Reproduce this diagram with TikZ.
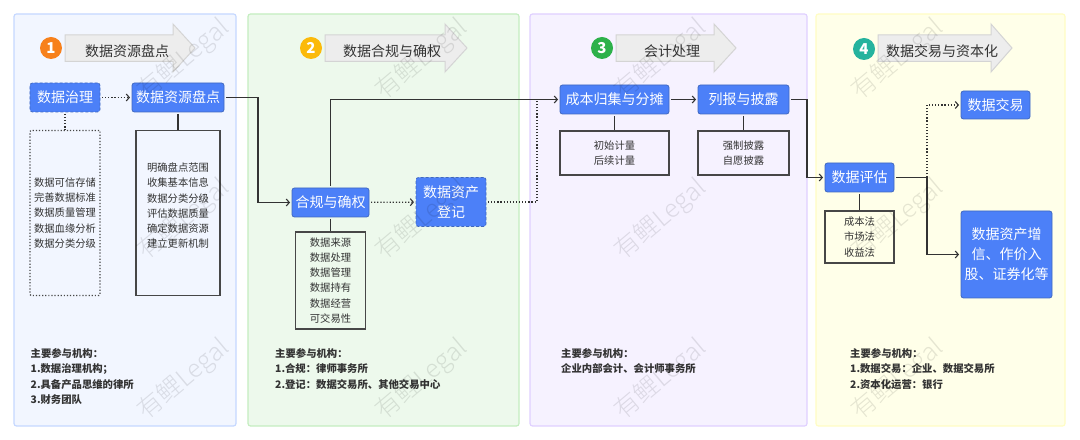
\documentclass[tikz,border=0pt]{standalone}
\usepackage{fontspec}
\setmainfont{Noto Sans CJK SC}
\newfontfamily\wmfont[UprightFont=* Light]{Noto Sans CJK SC}
\usetikzlibrary{arrows.meta}
\definecolor{ink}{HTML}{333333}
\definecolor{blu}{HTML}{4C80F8}
\definecolor{bluedge}{HTML}{4068C0}
\newcommand{\fsz}[2]{\fontsize{#1bp}{#2bp}\selectfont}
\tikzset{
  x=1bp,y=-1bp,
  panel/.style={rounded corners=2.5bp,line width=1.2bp},
  head/.style={draw=black!17,fill=black!7,line width=1bp},
  headtext/.style={text=ink,font=\fsz{14}{17}},
  badge/.style={circle,minimum size=22bp,inner sep=0,text=white,font=\bfseries\fsz{15}{17}},
  blue/.style={fill=blu,draw=bluedge,line width=.8bp,rounded corners=2.5bp,text=white,align=center,font=\fsz{14}{20},inner sep=0,outer sep=0},
  bluedash/.style={blue,densely dashed},
  dots/.style={dash pattern=on 1.2bp off 1.9bp},
  cbox/.style={draw=black!72,line width=1.1bp,align=center,inner sep=0,text=ink,font=\fsz{10.3}{15.2},execute at begin node={\rule{0pt}{15bp}}},
  cboxdot/.style={cbox,dots,rounded corners=1bp},
  note/.style={align=left,anchor=north west,inner sep=0,text=ink,font=\bfseries\fsz{10.35}{15.2}},
  conn/.style={draw=ink,line width=1.2bp},
  flow/.style={conn,-{Straight Barb[length=3bp,width=7bp,line width=1.1bp]},shorten >=2bp,shorten <=2bp},
  flowdot/.style={flow,dots},
  stub/.style={conn,shorten <=2bp},
  stubdot/.style={stub,dots},
  wm/.style={rotate=40,text=black,text opacity=.10,font=\wmfont\fsz{25}{30},inner sep=0},
}
\begin{document}
\begin{tikzpicture}
\useasboundingbox (0,0) rectangle (1080,440);
\fill[white] (0,0) rectangle (1080,440);
% panels
\path[panel,fill={rgb,255:red,242;green,246;blue,255},draw={rgb,255:red,197;green,216;blue,255}] (14,14) rectangle (236,426);
\path[panel,fill={rgb,255:red,237;green,249;blue,236},draw={rgb,255:red,196;green,238;blue,192}] (248,14) rectangle (519,426);
\path[panel,fill={rgb,255:red,246;green,242;blue,255},draw={rgb,255:red,224;green,208;blue,255}] (530,14) rectangle (807,426);
\path[panel,fill={rgb,255:red,255;green,255;blue,233},draw={rgb,255:red,255;green,253;blue,196}] (816,14) rectangle (1065,426);
% title arrows
\draw[head] (65,35) -- (173,35) -- (173,24) -- (195,48) -- (173,72) -- (173,61.5) -- (65,61.5) -- cycle;
\draw[head] (325,35) -- (445,35) -- (445,24) -- (467,48) -- (445,72) -- (445,61.5) -- (325,61.5) -- cycle;
\draw[head] (616,35) -- (714,35) -- (714,24) -- (736,48) -- (714,72) -- (714,61.5) -- (616,61.5) -- cycle;
\draw[head] (878,35) -- (991,35) -- (991,24) -- (1012,48) -- (991,72) -- (991,61.5) -- (878,61.5) -- cycle;
\node[headtext] (t1) at (127,51) {数据资源盘点};
\node[headtext] (t2) at (392,51) {数据合规与确权};
\node[headtext] (t3) at (672,51) {会计处理};
\node[headtext] (t4) at (942,51) {数据交易与资本化};
\node[badge,fill={rgb,255:red,247;green,129;blue,28}] (b1) at (51,48) {1};
\node[badge,fill={rgb,255:red,251;green,186;blue,10}] (b2) at (311,48) {2};
\node[badge,fill={rgb,255:red,45;green,177;blue,74}] (b3) at (602,48) {3};
\node[badge,fill={rgb,255:red,37;green,179;blue,158}] (b4) at (864,49) {4};
% blue nodes
\node[bluedash,minimum width=70bp,minimum height=29bp] (gov) at (65,97.5) {数据治理};
\node[blue,minimum width=92bp,minimum height=29bp] (inv) at (178,97.5) {数据资源盘点};
\node[blue,minimum width=77bp,minimum height=29bp] (cmp) at (330.5,202.5) {合规与确权};
\node[bluedash,minimum width=70bp,minimum height=49bp] (reg) at (451,202) {数据资产\\登记};
\node[blue,minimum width=109bp,minimum height=29bp] (cost) at (614.5,99.5) {成本归集与分摊};
\node[blue,minimum width=91bp,minimum height=29bp] (rep) at (743.5,99.5) {列报与披露};
\node[blue,minimum width=69bp,minimum height=29bp] (val) at (859.5,177.5) {数据评估};
\node[blue,minimum width=69bp,minimum height=28bp] (trd) at (995.5,105) {数据交易};
\node[blue,minimum width=91bp,minimum height=87bp] (cap) at (1006.5,254.5) {数据资产增\\信、作价入\\股、证券化等};
% content boxes
\node[cboxdot,minimum width=70bp,minimum height=165bp] (govb) at (65,213) {数据可信存储\\完善数据标准\\数据质量管理\\数据血缘分析\\数据分类分级};
\node[cbox,minimum width=84bp,minimum height=165bp] (invb) at (178,213) {明确盘点范围\\收集基本信息\\数据分类分级\\评估数据质量\\确定数据资源\\建立更新机制\\~};
\node[cbox,minimum width=69.5bp,minimum height=97bp] (cmpb) at (330.5,280.5) {数据来源\\数据处理\\数据管理\\数据持有\\数据经营\\可交易性};
\node[cbox,minimum width=109bp,minimum height=44bp] (costb) at (614.5,153) {初始计量\\后续计量};
\node[cbox,minimum width=91bp,minimum height=44bp] (repb) at (743.5,153) {强制披露\\自愿披露};
\node[cbox,minimum width=69bp,minimum height=52bp] (valb) at (859.5,237) {成本法\\市场法\\收益法};
% connector bends
\coordinate (bendA) at (258,150);
\coordinate (bendB) at (537,99.5);
\coordinate (bendC) at (807,140);
\coordinate (bendD) at (927,177.5);
% connectors
\draw[flowdot] (gov) -- (inv);
\draw[stubdot] (gov.south) -- (govb.north);
\draw[stub] (inv.south) -- (invb.north);
\draw[flow] (inv.east) -| (bendA) |- (cmp.west);
\draw[flow] (cmp.north) |- (cost.west);
\draw[flowdot] (cmp) -- (reg);
\draw[stub] (cmp.south) -- (cmpb.north);
\draw[conn,dots,shorten <=2bp] (reg.east) -| (bendB);
\draw[flow] (cost) -- (rep);
\draw[stub] (cost.south) -- (costb.north);
\draw[stub] (rep.south) -- (repb.north);
\draw[flow] (rep.east) -| (bendC) |- (val.west);
\draw[stub] (val.south) -- (valb.north);
\draw[flow] (val.east) -| (bendD) |- (cap.west);
\draw[flowdot,shorten <=0bp] (bendD) |- (trd.west);
% notes
\node[note] (n1) at (30.5,348.5) {主要参与机构：\\1.数据治理机构；\\2.具备产品思维的律所\\3.财务团队};
\node[note] (n2) at (275,348.5) {主要参与机构：\\1.合规：律师事务所\\2.登记：数据交易所、其他交易中心};
\node[note] (n3) at (561,348.5) {主要参与机构：\\企业内部会计、会计师事务所};
\node[note] (n4) at (850,348.5) {主要参与机构：\\1.数据交易：企业、数据交易所\\2.资本化运营：银行};
% watermarks
\foreach \cx/\col in {184/a,422/b,661/c,898/d}
  \foreach \cy/\row in {60/x,220/y,380/z}
    \node[wm] (wm\col\row) at (\cx,\cy) {有鲤Legal};
\end{tikzpicture}
\end{document}
